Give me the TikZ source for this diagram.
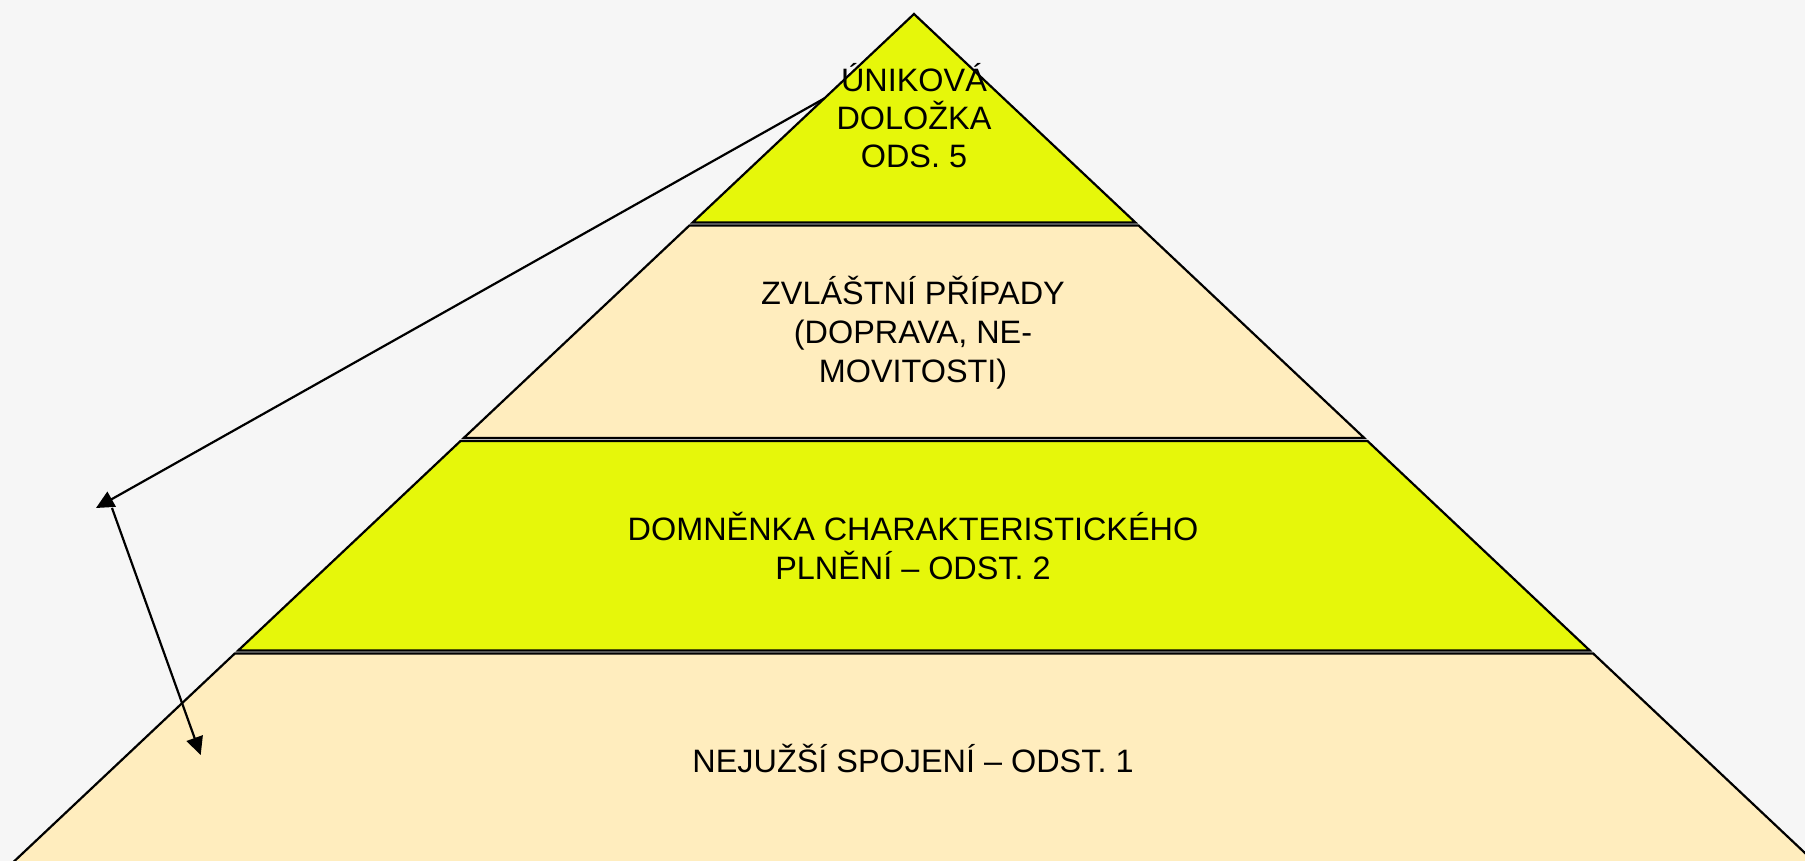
\documentclass[tikz,border=0pt]{standalone}
\usepackage{fontspec}
\setmainfont{Liberation Sans}
\usetikzlibrary{arrows.meta}
\definecolor{bg}{RGB}{246,246,246}
\definecolor{lemon}{RGB}{230,247,10}
\definecolor{cream}{RGB}{255,237,190}
\begin{document}
\begin{tikzpicture}[x=0.5pt,y=-0.5pt,
  layerbox/.style={draw=black,line width=1.1pt,line join=miter},
  lbl/.style={anchor=base,inner sep=0pt,font=\fontsize{16.2}{19}\selectfont},
  arr/.style={draw=black,line width=1.1pt,-{Triangle[length=9pt,width=8.5pt]}}]
\useasboundingbox (0,0) rectangle (1805,861);
\fill[bg] (0,0) rectangle (1805,861);
\clip (0,0) rectangle (1805,861);
% arrow coordinates
\coordinate (s1) at (826,97.5);
\coordinate (t1) at (96,508);
\coordinate (s2) at (112,508);
\coordinate (t2) at (200.7,755);
% first arrow (behind pyramid)
\draw[arr] (s1) -- (t1);
% layers
\draw[layerbox,fill=cream] (234.8,653.5) -- (1593.2,653.5) -- (1854.9,900) -- (-26.9,900) -- cycle;
\draw[layerbox,fill=lemon] (460.5,441) -- (1367.5,441) -- (1589.8,650.5) -- (238.2,650.5) -- cycle;
\draw[layerbox,fill=cream] (689.4,225.5) -- (1138.6,225.5) -- (1364.3,438) -- (463.7,438) -- cycle;
\draw[layerbox,fill=lemon] (914,14) -- (1135.4,222.5) -- (692.6,222.5) -- cycle;
% labels
\node[lbl] (l1a) at (914,91.5) {ÚNIKOVÁ};
\node[lbl] (l1b) at (914,129.5) {DOLOŽKA};
\node[lbl] (l1c) at (914,167.5) {ODS. 5};
\node[lbl] (l2a) at (913,305) {ZVLÁŠTNÍ PŘÍPADY};
\node[lbl] (l2b) at (913,343.5) {(DOPRAVA, NE-};
\node[lbl] (l2c) at (913,382) {MOVITOSTI)};
\node[lbl] (l3a) at (913,540) {DOMNĚNKA CHARAKTERISTICKÉHO};
\node[lbl] (l3b) at (913,579) {PLNĚNÍ – ODST. 2};
\node[lbl] (l4a) at (913,772) {NEJUŽŠÍ SPOJENÍ – ODST. 1};
% second arrow
\draw[arr] (s2) -- (t2);
\end{tikzpicture}
\end{document}
